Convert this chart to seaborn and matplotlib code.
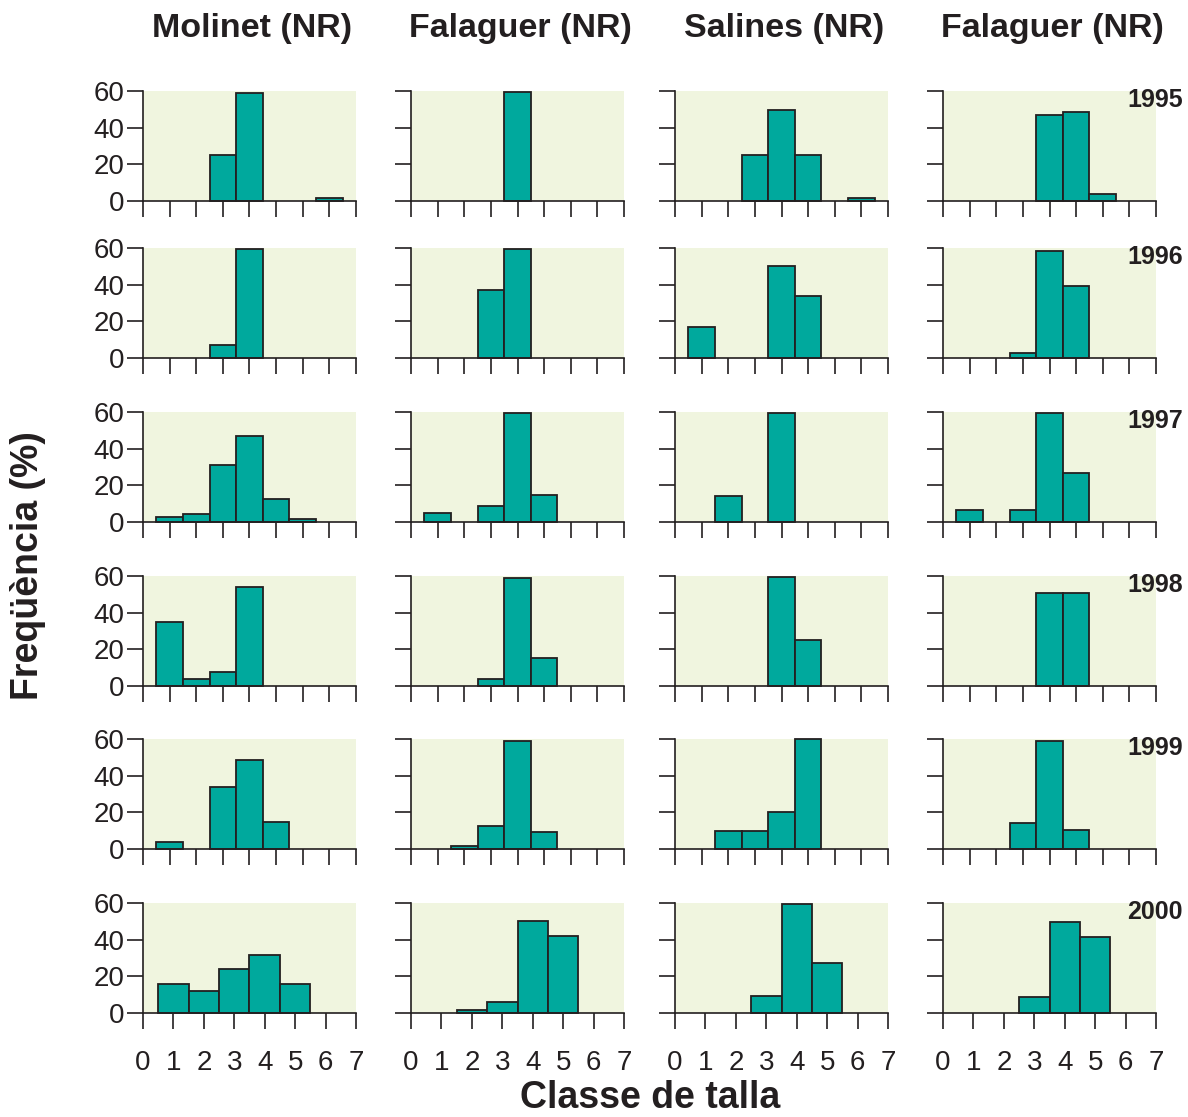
import seaborn as sns
import matplotlib.pyplot as plt
import numpy as np

# size classes (bars centred on these)
classes = [1, 2, 3, 4, 5, 6, 7]
years = ["1995", "1996", "1997", "1998", "1999", "2000"]
titles = ["Molinet (NR)", "Falaguer (NR)", "Salines (NR)", "Falaguer (NR)"]

# frequency (%) per class, one row per year
molinet = [
    [0, 0, 25, 59, 0, 0, 1.8],
    [0, 0, 7, 59.6, 0, 0, 0],
    [3, 4.5, 31, 47, 12.5, 1.5, 0],
    [34.7, 3.8, 7.8, 54, 0, 0, 0],
    [3.8, 0, 33.6, 48.5, 14.8, 0, 0],
    [15.7, 11.9, 23.9, 31.9, 15.7, 0, 0],
]
falaguer_1 = [
    [0, 0, 0, 59.5, 0, 0, 0],
    [0, 0, 37, 59.5, 0, 0, 0],
    [5, 0, 9, 59.5, 14.5, 0, 0],
    [0, 0, 4, 59, 15.1, 0, 0],
    [0, 1.5, 12.4, 59, 9.3, 0, 0],
    [0, 1.8, 6, 50.3, 42.2, 0, 0],
]
salines = [
    [0, 0, 24.9, 49.6, 24.9, 0, 1.8],
    [17, 0, 0, 50.2, 33.6, 0, 0],
    [0, 14.3, 0, 59.6, 0, 0, 0],
    [0, 0, 0, 59.5, 25, 0, 0],
    [0, 9.8, 9.8, 20, 60, 0, 0],
    [0, 0, 9.1, 59.3, 27.5, 0, 0],
]
falaguer_2 = [
    [0, 0, 0, 46.7, 48.7, 3.8, 0],
    [0, 0, 2.6, 58.5, 39.3, 0, 0],
    [6.6, 0, 6.6, 59.5, 26.9, 0, 0],
    [0, 0, 0, 50.5, 50.5, 0, 0],
    [0, 0, 14.1, 58.9, 10.6, 0, 0],
    [0, 0, 8.9, 49.8, 41.3, 0, 0],
]
columns = [molinet, falaguer_1, salines, falaguer_2]

sns.set_style("ticks")
plt.rcParams["font.family"] = ["Liberation Sans", "DejaVu Sans"]

teal = "#00a99d"
edge = "#231f20"
panel_bg = "#f0f5df"

W, H = 1188, 1117
fig = plt.figure(figsize=(W / 100, H / 100), dpi=100)

col_left = [143, 411, 675, 943]
row_top = [91, 248, 412, 576, 739, 903]
pw, ph = 213, 110

for c, data in enumerate(columns):
    for r, vals in enumerate(data):
        ax = fig.add_axes([col_left[c] / W, 1 - (row_top[r] + ph) / H, pw / W, ph / H])
        ax.set_facecolor(panel_bg)
        # only classes with a non-zero frequency get a bar
        xs = [k for k, v in zip(classes, vals) if v > 0]
        ws = [v for v in vals if v > 0]
        sns.histplot(x=xs, weights=ws, discrete=True, ax=ax,
                     color=teal, edgecolor=edge, linewidth=1.3, alpha=1)
        for p in list(ax.patches):
            if p.get_height() == 0:
                p.remove()
            else:
                p.set_clip_on(False)
        last = r == len(data) - 1
        xmax = 7 if last else 8
        ax.set_xlim(0, xmax)
        ax.set_ylim(0, 60)
        ax.set_xticks(range(xmax + 1))
        ax.set_yticks([0, 20, 40, 60])
        ax.set_xlabel("")
        ax.set_ylabel("")
        sns.despine(ax=ax)
        for s in ["left", "bottom"]:
            ax.spines[s].set_color(edge)
            ax.spines[s].set_linewidth(1.2)
        ax.tick_params(length=11.5, width=1.2, color=edge, labelcolor=edge,
                       labelsize=20, direction="out")
        ax.tick_params(axis="y", pad=2)
        ax.tick_params(axis="x", pad=15)
        if c > 0:
            ax.set_yticklabels([])
        if not last:
            ax.set_xticklabels([])
        if c == 3:
            ax.text(1.127, 0.92, years[r], transform=ax.transAxes, ha="right",
                    va="center", fontsize=18, fontweight="bold", color=edge)

for c, t in enumerate(titles):
    fig.text((col_left[c] + pw / 2 + 3) / W, 1 - 28 / H, t, ha="center",
             va="center", fontsize=24.5, fontweight="bold", color=edge)

fig.text(650 / W, 1 - 1098 / H, "Classe de talla", ha="center", va="center",
         fontsize=27, fontweight="bold", color=edge)
fig.text(28 / W, 1 - 566 / H, "Freqüència (%)", ha="center", va="center",
         rotation=90, fontsize=27, fontweight="bold", color=edge)

plt.savefig("out.png", dpi=100)
